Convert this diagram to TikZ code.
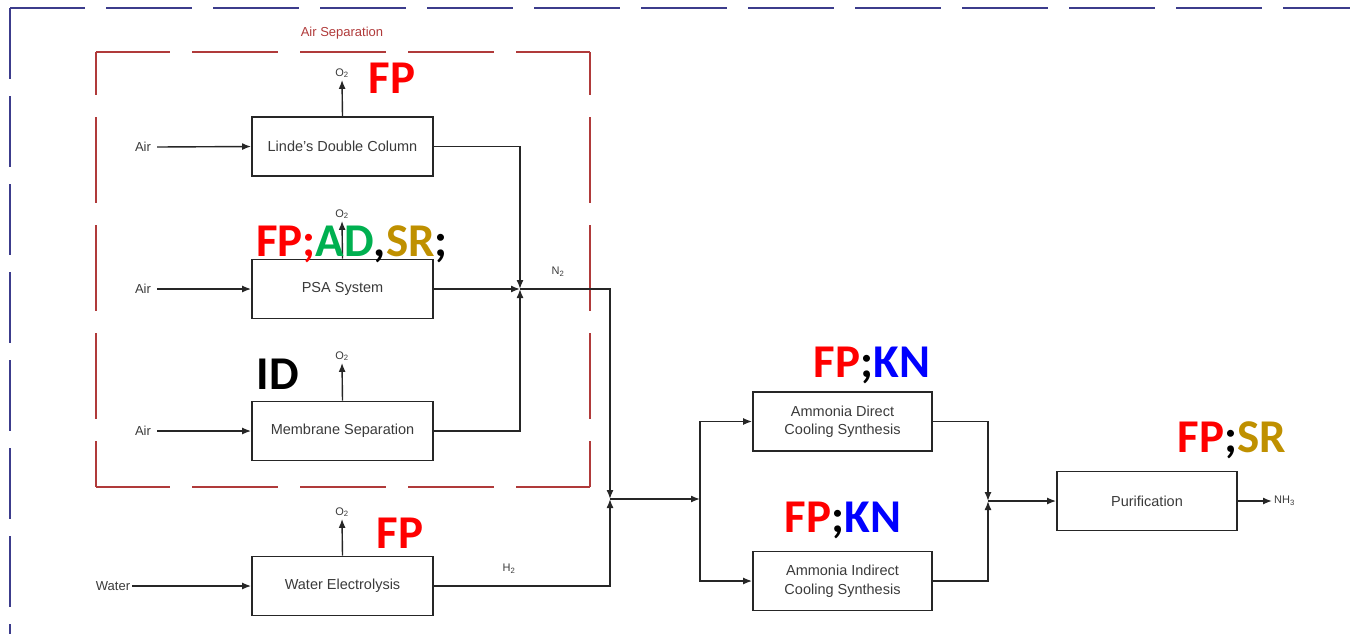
\documentclass[tikz,border=0pt]{standalone}
\usepackage{fontspec}
\setmainfont{Liberation Sans}
\newfontfamily\tagfont{Carlito}
\usetikzlibrary{arrows.meta}
\definecolor{frameblue}{HTML}{3C3C8C}
\definecolor{sepred}{HTML}{B03A3A}
\definecolor{txtgray}{HTML}{3A3A3A}
\definecolor{tagred}{HTML}{FF0000}
\definecolor{taggreen}{HTML}{00B050}
\definecolor{taggold}{HTML}{BF9000}
\definecolor{tagblue}{HTML}{0000FF}
\tikzset{
  box/.style={draw=black!85, line width=1.8pt, minimum width=181pt, minimum height=59pt, align=center, text=txtgray, font=\fontsize{14.5}{18.5}\selectfont, inner sep=0pt},
  lbl/.style={text=txtgray, font=\fontsize{13}{15}\selectfont, inner sep=2pt},
  sml/.style={text=txtgray, font=\fontsize{11}{13}\selectfont, inner sep=2pt},
  flow/.style={draw=black!85, line width=1.4pt},
  arr/.style={flow, -{Latex[length=9pt,width=7pt]}},
  tag/.style={font=\tagfont\bfseries\fontsize{47}{50}\selectfont, inner sep=0pt, anchor=base},
  redside/.style={sepred, line width=1.8pt, dash pattern=on 86pt off 22pt},
}
\begin{document}
\begin{tikzpicture}[x=1pt,y=-1pt]
\useasboundingbox (0,0) rectangle (1350,633);
% outer blue frame
\draw[frameblue, line width=2pt, dash pattern=on 71pt off 17pt] (10,8) -- (10,640);
\draw[frameblue, line width=2pt, dash pattern=on 86pt off 21pt, dash phase=11pt] (10,8) -- (1360,8);
% air separation frame
\coordinate (s1) at (96,52);
\coordinate (s2) at (590,52);
\coordinate (s3) at (590,487);
\coordinate (s4) at (96,487);
\draw[redside, dash phase=12pt] (s1) -- (s2);
\draw[redside, dash phase=12pt] (s4) -- (s3);
\draw[redside, dash phase=43pt] (s1) -- (s4);
\draw[redside, dash phase=43pt] (s2) -- (s3);
\node[text=sepred, font=\fontsize{13}{15}\selectfont] (septitle) at (342,33) {Air Separation};

% boxes
\node[box] (linde) at (342.5,146.5) {Linde's Double Column};
\node[box] (psa) at (342.5,289) {PSA System};
\node[box] (mem) at (342.5,431) {Membrane Separation};
\node[box] (wel) at (342.5,586) {Water Electrolysis};
\node[box, minimum width=179pt] (dir) at (842.5,421.5) {Ammonia Direct\\Cooling Synthesis};
\node[box, minimum width=179pt] (ind) at (842.5,581) {Ammonia Indirect\\Cooling Synthesis};
\node[box, minimum width=180pt] (pur) at (1147,501) {Purification};

% inputs
\node[lbl] (air1) at (143,147) {Air};
\node[lbl] (air2) at (143,289) {Air};
\node[lbl] (air3) at (143,431) {Air};
\node[lbl] (wat) at (113,586) {Water};
\draw[arr] (air1.east) ++(4,0) -- (linde.west);
\draw[arr] (air2.east) ++(4,0) -- (psa.west);
\draw[arr] (air3.east) ++(4,0) -- (mem.west);
\draw[arr] (wat.east) -- (wel.west);

% O2 outputs
\node[sml] (o1) at (342,73) {O\textsubscript{2}};
\node[sml] (o2) at (342,214) {O\textsubscript{2}};
\node[sml] (o3) at (342,356) {O\textsubscript{2}};
\node[sml] (o4) at (342,512) {O\textsubscript{2}};
\draw[arr] (linde.north) -- (o1.south);
\draw[arr] (psa.north) -- (o2.south);
\draw[arr] (mem.north) -- (o3.south);
\draw[arr] (wel.north) -- (o4.south);

% junctions
\coordinate (j1) at (520,289);
\coordinate (j2) at (610,499);
\coordinate (sp) at (700,499);
\coordinate (j3) at (988,501);
\coordinate (nh) at (1272,501);

\draw[arr] (linde.east) -| (j1);
\draw[arr] (psa.east) -- (j1);
\draw[arr] (mem.east) -| (j1);
\draw[arr] (j1) -| (j2);
\draw[arr] (wel.east) -| (j2);
\node[sml] (n2) at (558,272) {N\textsubscript{2}};
\node[sml] (h2) at (509,569) {H\textsubscript{2}};
\draw[arr] (j2) -- (sp);
\draw[arr] (sp) |- (dir.west);
\draw[arr] (sp) |- (ind.west);
\draw[arr] (dir.east) -| (j3);
\draw[arr] (ind.east) -| (j3);
\draw[arr] (j3) -- (pur.west);
\draw[arr] (pur.east) -- (nh);
\node[sml, anchor=west] (nh3) at (nh) {NH\textsubscript{3}};

% tags
\node[tag] (t1) at (392,93) {\textcolor{tagred}{FP}};
\node[tag] (t2) at (352,256) {\textcolor{tagred}{FP;}\textcolor{taggreen}{AD},\textcolor{taggold}{SR};};
\node[tag] (t3) at (278,389) {ID};
\node[tag] (t4) at (872,377) {\textcolor{tagred}{FP};\textcolor{tagblue}{KN}};
\node[tag] (t5) at (843,532) {\textcolor{tagred}{FP};\textcolor{tagblue}{KN}};
\node[tag] (t6) at (1232,452) {\textcolor{tagred}{FP};\textcolor{taggold}{SR}};
\node[tag] (t7) at (400,548) {\textcolor{tagred}{FP}};
\end{tikzpicture}
\end{document}
